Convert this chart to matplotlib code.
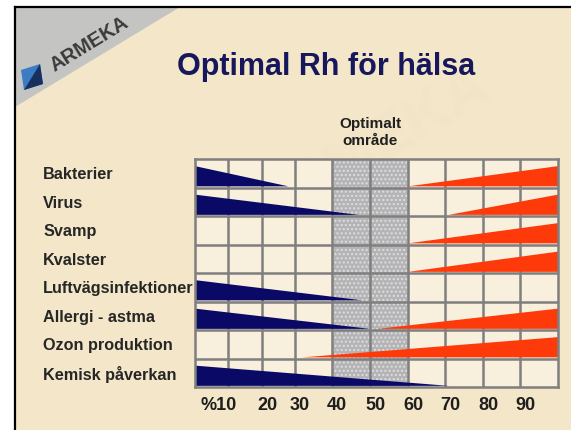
import numpy as np
import matplotlib.pyplot as plt
from matplotlib.patches import Polygon, Rectangle
from matplotlib.lines import Line2D
from matplotlib.transforms import ScaledTranslation

plt.rcParams['font.family'] = ['Liberation Sans', 'DejaVu Sans']

# risk factors, top to bottom
rows = ['Bakterier', 'Virus', 'Svamp', 'Kvalster', 'Luftvägsinfektioner',
        'Allergi - astma', 'Ozon produktion', 'Kemisk påverkan']
# where the "too dry" wedge runs out (% Rh), None = no wedge
low_rh_end = [28, 47, None, None, 48, 50, None, 71]
# where the "too humid" wedge starts (% Rh), None = no wedge
high_rh_start = [60, 71, 60, 60, None, 52, 32, None]

rh_ticks = [10, 20, 30, 40, 50, 60, 70, 80, 90]
rh_labels = ['%10', '20', '30', '40', '50', '60', '70', '80', '90']
optimal_range = (40, 60)

# the columns in the slide are not evenly wide (the optimal ones are wider)
rh_edges = np.arange(0, 101, 10)
col_px = [0, 33, 67, 100, 137, 175, 213, 250, 288, 325, 363]


def fwd(v):
    return np.interp(v, rh_edges, col_px)


def inv(p):
    return np.interp(p, col_px, rh_edges)


W, H = 571, 430
bg = '#f4e7c9'
cell = '#f8efdc'
grid_col = '#7f7f7f'
navy = '#0a0a66'
red = '#ff3a0a'

fig = plt.figure(figsize=(W / 100, H / 100), dpi=100, facecolor='white')


def px(x, y):
    # top-left pixel -> figure fraction
    return x / W, 1 - y / H


# slide background, logo corner and the black frame
fig.patches.append(Rectangle((15 / W, 0), (W - 15) / W, (H - 7) / H,
                             transform=fig.transFigure, facecolor=bg, lw=0, zorder=-2))
fig.patches.append(Polygon([px(15, 7), px(180, 7), px(15, 107)], closed=True,
                           transform=fig.transFigure, facecolor='#c4c4c2', lw=0, zorder=-1))
fig.text(*px(370, 150), 'ARMEKA', rotation=30, fontsize=44, fontweight='bold',
         color='#f1e4c7', ha='center', va='center', zorder=-1)
fig.text(*px(89, 44), 'ARMEKA', rotation=31.5, rotation_mode='anchor', fontsize=14.5,
         fontweight='bold', color='#3a3a3a', ha='center', va='center')
fig.patches.append(Polygon([px(21, 70), px(40, 64), px(43, 84), px(24, 90)], closed=True,
                           transform=fig.transFigure, facecolor='#3b7cc4', lw=0, zorder=1))
fig.patches.append(Polygon([px(40, 64), px(43, 84), px(24, 90)], closed=True,
                           transform=fig.transFigure, facecolor='#17305e', lw=0, zorder=1))
fig.add_artist(Line2D([15 / W, 1], [1 - 7 / H, 1 - 7 / H], transform=fig.transFigure,
                      color='black', lw=1.6))
fig.add_artist(Line2D([15 / W, 15 / W], [0, 1 - 7 / H], transform=fig.transFigure,
                      color='black', lw=1.6))

fig.text(*px(326, 75), 'Optimal Rh för hälsa', ha='center', va='baseline',
         fontsize=22, fontweight='bold', color='#17175c')

ax = fig.add_axes([195 / W, 1 - 387 / H, 363 / W, 228 / H])
ax.set_xscale('function', functions=(fwd, inv))
ax.set_xlim(0, 100)
ax.set_ylim(len(rows), 0)
ax.set_facecolor(cell)
for s in ax.spines.values():
    s.set_color(grid_col)
    s.set_linewidth(1.8)

# optimal band
ax.axvspan(*optimal_range, facecolor='#b4b4b6', edgecolor='#dedede', hatch='....',
           lw=0, zorder=1)

# wedges
gap = 0.04
for i, end in enumerate(low_rh_end):
    if end is not None:
        ax.fill([0, 0, end], [i + 1 - gap, i + 0.25, i + 1 - gap], color=navy, lw=0, zorder=2)
for i, start in enumerate(high_rh_start):
    if start is not None:
        ax.fill([100, 100, start], [i + 1 - gap, i + 0.25, i + 1 - gap], color=red, lw=0, zorder=2)

ax.text(50, -1.09, 'Optimalt', ha='center', va='baseline', fontsize=11,
        fontweight='bold', color='#202020', clip_on=False)
ax.text(50, -0.49, 'område', ha='center', va='baseline', fontsize=11,
        fontweight='bold', color='#202020', clip_on=False)

# grid
ax.set_axisbelow('line')
ax.set_xticks(rh_ticks, rh_labels)
ax.set_yticks(np.arange(len(rows)) + 0.5, rows)
ax.set_yticks(np.arange(1, len(rows)), minor=True)
ax.xaxis.set_minor_locator(plt.NullLocator())
ax.grid(True, which='major', axis='x', color=grid_col, lw=1.8)
ax.grid(True, which='minor', axis='y', color=grid_col, lw=1.8)
ax.tick_params(which='both', length=0)
ax.tick_params(axis='x', pad=7, labelsize=13, labelcolor='#1e1e1e')
ax.tick_params(axis='y', pad=109.4, labelsize=11.7, labelcolor='#262626')

for lbl in ax.get_yticklabels():
    lbl.set_ha('left')
    lbl.set_fontweight('bold')
for k, lbl in enumerate(ax.get_xticklabels()):
    lbl.set_fontweight('bold')
    if k == 0:
        lbl.set_ha('right')
        dx = 9
    else:
        dx = 5
    lbl.set_transform(lbl.get_transform() + ScaledTranslation(dx / 100, 0, fig.dpi_scale_trans))

fig.savefig('out.png', dpi=100, facecolor=fig.get_facecolor())
